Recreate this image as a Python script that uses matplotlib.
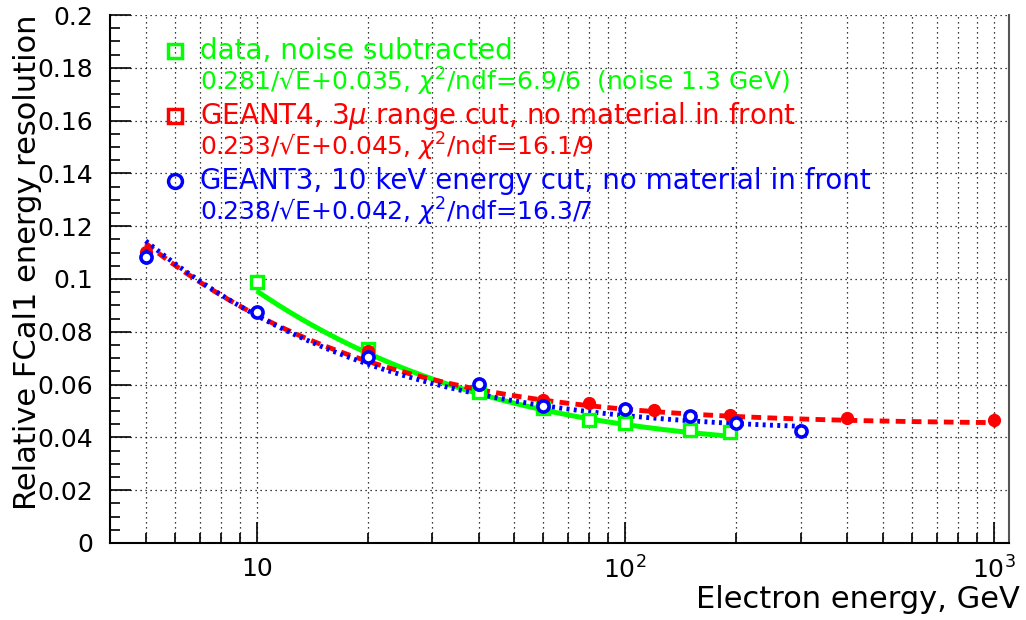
import numpy as np
import matplotlib
matplotlib.use("Agg")
import matplotlib.pyplot as plt
from matplotlib.ticker import FixedLocator, NullFormatter

# Measured points: energy (GeV), resolution, error
e_data = [10, 20, 40, 60, 80, 100, 150, 193]
r_data = [0.0990, 0.0733, 0.0572, 0.0512, 0.0467, 0.0455, 0.0429, 0.0422]
err_data = [0.003, 0.0015, 0.001, 0.001, 0.001, 0.001, 0.001, 0.001]

e_g4 = [5, 10, 20, 40, 60, 80, 120, 193, 400, 1000]
r_g4 = [0.1104, 0.0874, 0.0727, 0.0600, 0.0540, 0.0531, 0.0505, 0.0484, 0.0475, 0.0467]
err_g4 = [0.0025, 0.0015, 0.0012, 0.001, 0.001, 0.001, 0.001, 0.001, 0.0015, 0.0026]

e_g3 = [5, 10, 20, 40, 60, 100, 150, 200, 300]
r_g3 = [0.1085, 0.0874, 0.0704, 0.0603, 0.0520, 0.0508, 0.0482, 0.0456, 0.0426]
err_g3 = [0.0028, 0.0015, 0.0012, 0.001, 0.001, 0.001, 0.001, 0.001, 0.001]

# Fit parameters: sigma/E = a/sqrt(E) (+) b, and fit ranges
fit_data = (0.281, 0.035, 10, 193)
fit_g4 = (0.233, 0.045, 5, 1000)
fit_g3 = (0.238, 0.042, 5, 300)

labels_data = ["data, noise subtracted",
               r"0.281/√E+0.035, $\chi^{2}$/ndf=6.9/6  (noise 1.3 GeV)"]
labels_g4 = [r"GEANT4, 3$\mu$ range cut, no material in front",
             r"0.233/√E+0.045, $\chi^{2}$/ndf=16.1/9"]
labels_g3 = ["GEANT3, 10 keV energy cut, no material in front",
             r"0.238/√E+0.042, $\chi^{2}$/ndf=16.3/7"]

GREEN = "#00ff00"
RED = "#ff0000"
BLUE = "#0000ff"


def fit_curve(p):
    a, b, lo, hi = p
    e = np.logspace(np.log10(lo), np.log10(hi), 200)
    return e, np.sqrt((a / np.sqrt(e)) ** 2 + b ** 2)


fig = plt.figure(figsize=(10.26, 6.20), dpi=100)
ax = fig.add_axes([0.1072, 0.1242, 0.8762, 0.8516])
ax.set_xscale("log")
ax.set_xlim(4, 1100)
ax.set_ylim(0, 0.2)

# grid: dotted lines at every log step in x and every 0.02 in y
xgrid = [d * m for d in (1, 10, 100) for m in range(1, 10)] + [1000]
xgrid = [v for v in xgrid if 4 < v < 1100]
for v in xgrid:
    ax.axvline(v, color="black", lw=0.9, ls=(0, (1, 3)), zorder=0)
for v in np.arange(0.02, 0.201, 0.02):
    ax.axhline(v, color="black", lw=0.9, ls=(0, (1, 3)), zorder=0)

# fitted curves
x, y = fit_curve(fit_data)
ax.plot(x, y, color=GREEN, lw=3.6, solid_capstyle="butt", zorder=2)
x, y = fit_curve(fit_g4)
ax.plot(x, y, color=RED, lw=3.5, ls=(0, (2.0, 1.3)), zorder=3)
x, y = fit_curve(fit_g3)
ax.plot(x, y, color=BLUE, lw=3.5, ls=(0, (0.6, 0.9)), zorder=4)

# points
ax.errorbar(e_data, r_data, yerr=err_data, fmt="s", color=GREEN, mfc="white",
            mec=GREEN, ms=8, mew=2.4, elinewidth=2, capsize=0, zorder=5)
ax.errorbar(e_g4, r_g4, yerr=err_g4, fmt="o", color=RED, ms=8.5,
            elinewidth=2, capsize=0, zorder=6)
ax.errorbar(e_g3, r_g3, yerr=err_g3, fmt="o", color=BLUE, mfc="white",
            mec=BLUE, ms=8, mew=2.6, elinewidth=2, capsize=0, zorder=7)

# legend, written as text in figure pixels
def legend_entry(marker, color, y1, y2, lines):
    fig.lines.append(plt.Line2D([175 / 1026], [1 - y1 / 620], transform=fig.transFigure,
                                marker=marker, ms=10, mfc="none", mec=color, mew=2.5))
    fig.text(200 / 1026, 1 - y1 / 620, lines[0], color=color, fontsize=20,
             va="center", ha="left")
    fig.text(200 / 1026, 1 - y2 / 620, lines[1], color=color, fontsize=18,
             va="center", ha="left")

legend_entry("s", GREEN, 51, 82, labels_data)
legend_entry("s", RED, 116, 147, labels_g4)
legend_entry("o", BLUE, 181, 212, labels_g3)

# axes styling
for s in ("left", "bottom"):
    ax.spines[s].set_linewidth(1.5)
ax.spines["top"].set_visible(False)
ax.spines["right"].set_color("#555555")
ax.spines["right"].set_linewidth(1.5)

ax.yaxis.set_major_locator(FixedLocator(np.arange(0, 0.201, 0.02)))
ax.yaxis.set_minor_locator(FixedLocator(np.arange(0, 0.201, 0.005)))
ax.set_yticklabels(["0", "0.02", "0.04", "0.06", "0.08", "0.1", "0.12",
                    "0.14", "0.16", "0.18", "0.2"])
ax.xaxis.set_major_locator(FixedLocator([10, 100, 1000]))
ax.xaxis.set_minor_locator(FixedLocator([v for v in xgrid if v not in (10, 100, 1000)]))
ax.xaxis.set_minor_formatter(NullFormatter())
ax.set_xticklabels(["10", r"$10^{2}$", r"$10^{3}$"])

ax.tick_params(which="both", direction="in", right=False, top=False,
               labelsize=18, width=1.2)
ax.tick_params(which="major", length=15)
ax.tick_params(which="minor", length=7)
ax.tick_params(axis="x", pad=10)
ax.tick_params(axis="y", pad=12)

fig.text(1020 / 1026, 1 - 600 / 620, "Electron energy, GeV", fontsize=22,
         ha="right", va="center")
fig.text(28 / 1026, 1 - 14 / 620, "Relative FCal1 energy resolution", fontsize=22,
         rotation=90, ha="center", va="top")

fig.savefig("out.png", dpi=100)
